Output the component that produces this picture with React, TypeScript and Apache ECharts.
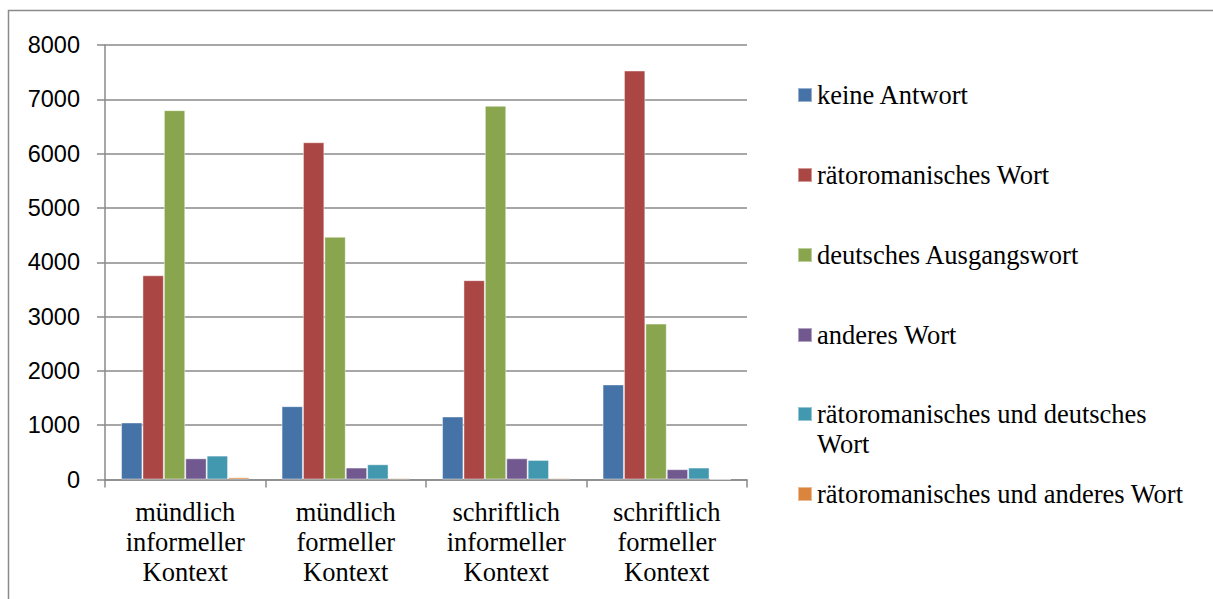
import React, { useEffect, useRef } from "react";
import * as echarts from "echarts";

const categories = [
  "mündlich informeller Kontext",
  "mündlich formeller Kontext",
  "schriftlich informeller Kontext",
  "schriftlich formeller Kontext",
];

const seriesNames = [
  "keine Antwort",
  "rätoromanisches Wort",
  "deutsches Ausgangswort",
  "anderes Wort",
  "rätoromanisches und deutsches Wort",
  "rätoromanisches und anderes Wort",
];

const keineAntwort = [1050, 1350, 1160, 1750];
const raetoromanischesWort = [3760, 6210, 3670, 7530];
const deutschesAusgangswort = [6800, 4470, 6880, 2870];
const anderesWort = [390, 220, 390, 190];
const raetoUndDeutsch = [440, 280, 360, 220];
const raetoUndAnderes = [40, 25, 25, 5];

const seriesValues = [
  keineAntwort,
  raetoromanischesWort,
  deutschesAusgangswort,
  anderesWort,
  raetoUndDeutsch,
  raetoUndAnderes,
];

const colors = ["#4572A7", "#AA4643", "#89A54E", "#71588F", "#4198AF", "#DB843D"];

const yTicks = [0, 1000, 2000, 3000, 4000, 5000, 6000, 7000, 8000];

const legendCenters = [95, 175, 255, 335, 414, 494];

export default function App() {
  const ref = useRef<HTMLDivElement>(null);

  useEffect(() => {
    document.body.style.margin = "0";
    document.body.style.overflow = "hidden";
    if (!ref.current) return;
    const chart = echarts.init(ref.current, null, { renderer: "svg" });
    const serif = "'Liberation Serif', 'Times New Roman', serif";
    const sans = "'Liberation Sans', Arial, sans-serif";
    const gray = "#8a8a8a";

    const legends = seriesNames.map((name, i) => {
      const twoLine = i === 4;
      return {
        show: true,
        data: [name],
        orient: "vertical",
        left: 797,
        top: twoLine ? legendCenters[i] - 45 : legendCenters[i] - 15,
        padding: 0,
        itemWidth: 14,
        itemHeight: 14,
        icon: "rect",
        selectedMode: false,
        formatter: twoLine
          ? () => "\nrätoromanisches und deutsches\nWort"
          : undefined,
        textStyle: {
          fontFamily: serif,
          fontSize: 26.5,
          color: "#000",
          lineHeight: 30,
        },
      };
    });

    chart.setOption({
      animation: false,
      color: colors,
      graphic: [
        {
          type: "rect",
          shape: { x: 8.5, y: 10.5, width: 1400, height: 800 },
          style: { fill: "none", stroke: gray, lineWidth: 1.5 },
          silent: true,
        },
      ],
      legend: legends,
      grid: { left: 105, right: 466, top: 45, bottom: 119.5 },
      xAxis: {
        type: "category",
        data: categories,
        axisLine: { show: true, lineStyle: { color: gray, width: 1.5 } },
        axisTick: { show: true, length: 8, alignWithLabel: false, lineStyle: { color: gray, width: 1.5 } },
        axisLabel: {
          interval: 0,
          margin: 17,
          fontFamily: serif,
          fontSize: 26.5,
          lineHeight: 30,
          color: "#000",
          formatter: (v: string) => v.split(" ").join("\n"),
        },
      },
      yAxis: {
        type: "value",
        min: yTicks[0],
        max: yTicks[yTicks.length - 1],
        interval: yTicks[1] - yTicks[0],
        axisLine: { show: true, lineStyle: { color: gray, width: 1.5 } },
        axisTick: { show: true, length: 8, lineStyle: { color: gray, width: 1.5 } },
        splitLine: { show: true, lineStyle: { color: gray, width: 1.5 } },
        axisLabel: {
          margin: 25,
          fontFamily: sans,
          fontSize: 23.5,
          color: "#000",
          formatter: (v: number) => String(v),
        },
      },
      series: seriesNames.map((name, i) => ({
        name,
        type: "bar",
        data: seriesValues[i],
        barGap: "0%",
        barCategoryGap: "20%",
        itemStyle: {
          color: colors[i],
          borderColor: "rgba(255,255,255,0.45)",
          borderWidth: 1,
        },
      })),
    });

    return () => chart.dispose();
  }, []);

  return <div ref={ref} style={{ width: 1213, height: 599 }} />;
}
